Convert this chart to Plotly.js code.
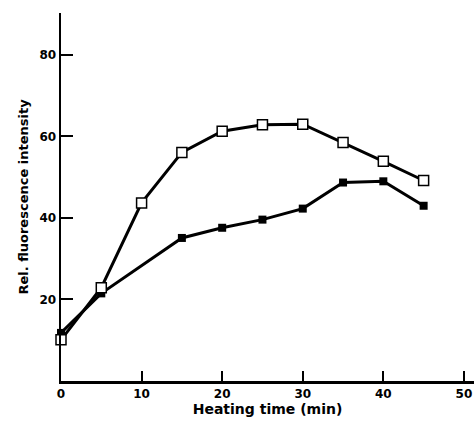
<!DOCTYPE html>
<html><head><meta charset="utf-8">
<script src="https://cdn.plot.ly/plotly-3.0.1.min.js"></script>
<style>html,body{margin:0;padding:0;background:#fff}</style>
</head><body>
<div id="chart" style="width:474px;height:422px"></div>
<script>
const openX = [0, 5, 10, 15, 20, 25, 30, 35, 40, 45];
const openY = [10.1, 22.9, 43.7, 56.1, 61.3, 62.9, 63.0, 58.5, 53.9, 49.2];
const filledX = [0, 5, 15, 20, 25, 30, 35, 40, 45];
const filledY = [11.8, 21.5, 35.1, 37.6, 39.6, 42.3, 48.7, 49.0, 43.0];
const xTicks = [0, 10, 20, 30, 40, 50];
const yTicks = [20, 40, 60, 80];

const fnt = {family: 'DejaVu Sans', size: 12, color: '#000', weight: 'bold'};
const data = [
  {x: filledX, y: filledY, mode: 'lines+markers', type: 'scatter', cliponaxis: false,
   line: {color: '#000', width: 3},
   marker: {symbol: 'square', size: 8, color: '#000'}},
  {x: openX, y: openY, mode: 'lines+markers', type: 'scatter', cliponaxis: false,
   line: {color: '#000', width: 3},
   marker: {symbol: 'square', size: 10, color: '#fff', line: {color: '#000', width: 1.5}}}
];
const layout = {
  width: 474, height: 422,
  margin: {l: 61, r: 0, t: 13, b: 41},
  showlegend: false,
  paper_bgcolor: '#fff', plot_bgcolor: '#fff',
  xaxis: {range: [0, 51.25], tickvals: xTicks, ticktext: xTicks.map(String),
    ticks: 'inside', ticklen: 10, tickwidth: 2, tickcolor: '#000',
    showline: true, linewidth: 2.5, linecolor: '#000', showgrid: false, zeroline: false,
    tickfont: fnt, ticklabelstandoff: 0,
    title: {text: 'Heating time (min)', font: {family: 'DejaVu Sans', size: 14, color: '#000', weight: 'bold'}, standoff: 4}},
  yaxis: {range: [0, 90.3], tickvals: yTicks, ticktext: yTicks.map(String),
    ticks: 'inside', ticklen: 12, tickwidth: 2, tickcolor: '#000',
    showline: true, linewidth: 2.5, linecolor: '#000', showgrid: false, zeroline: false,
    tickfont: fnt,
    title: {text: 'Rel. fluorescence intensity', font: {family: 'DejaVu Sans', size: 13, color: '#000', weight: 'bold'}, standoff: 8}}
};
Plotly.newPlot('chart', data, layout, {displayModeBar: false, staticPlot: true});
</script>
</body></html>
